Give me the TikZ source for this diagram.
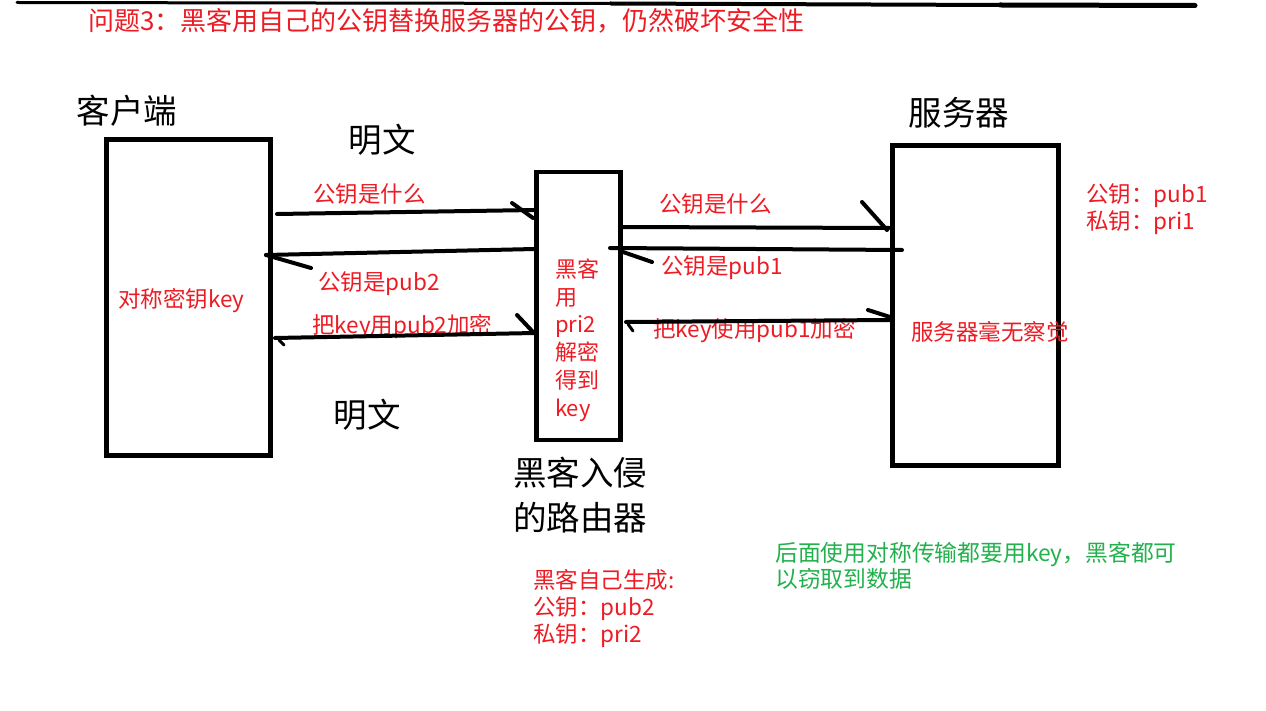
\documentclass[tikz,border=0pt]{standalone}
\usepackage{fontspec}
\setmainfont{Noto Sans CJK SC}
\definecolor{pred}{RGB}{237,28,36}
\definecolor{pgreen}{RGB}{34,177,76}
\tikzset{
  boxnode/.style={draw=black,line width=4.5pt,minimum width=#1,inner sep=0pt},
  stroke/.style={draw=black,line width=4pt,line cap=round},
  redlbl/.style={text=pred,font=\fontsize{22.5}{27}\selectfont,anchor=west,inner sep=0pt},
  grnlbl/.style={text=pgreen,font=\fontsize{22.8}{26.5}\selectfont,anchor=west,inner sep=0pt},
  blklbl/.style={text=black,font=\fontsize{33.5}{45}\selectfont,inner sep=0pt},
}
\begin{document}
\begin{tikzpicture}[x=1pt,y=-1pt]
\useasboundingbox (0,0) rectangle (1266,711);
\fill[white] (0,0) rectangle (1266,711);
% top line
\coordinate (t1) at (17,2.5);
\coordinate (t2) at (610,3.5);
\coordinate (t3) at (1000,5);
\coordinate (t4) at (1195,5.5);
\draw[black,line width=3pt,line cap=round] (t1) -- (t2);
\draw[black,line width=4pt] (t2) -- (t3);
\draw[black,line width=5pt,line cap=round] (t3) -- (t4);
% title
\node[redlbl,font=\fontsize{26}{30}\selectfont] (title) at (88,21) {问题3：黑客用自己的公钥替换服务器的公钥，仍然破坏安全性};
% boxes
\node[boxnode=164pt,minimum height=316pt] (client) at (188.5,297.5) {};
\node[boxnode=84pt,minimum height=268pt] (router) at (578.5,306) {};
\node[boxnode=166pt,minimum height=320pt] (server) at (975.5,305.5) {};
% black labels
\node[blklbl] (lclient) at (127,111) {客户端};
\node[blklbl] (lserver) at (959,113) {服务器};
\node[blklbl] (mw1) at (382,140) {明文};
\node[blklbl] (mw2) at (367,415) {明文};
\node[blklbl,align=center] (lrouter) at (580,495) {黑客入侵\\的路由器};
% red labels
\node[redlbl] (sym) at (118,301) {对称密钥key};
\node[redlbl,align=left,font=\fontsize{22}{27.8}\selectfont] (rtxt) at (555,340) {黑客\\用\\pri2\\解密\\得到\\key};
\node[redlbl] (unaware) at (911,332) {服务器毫无察觉};
\node[redlbl,align=left] (skeys) at (1086,209) {公钥：pub1\\私钥：pri1};
\node[redlbl,align=left] (hkeys) at (533,609) {黑客自己生成:\\公钥：pub2\\私钥：pri2};
\node[grnlbl,align=left] (note) at (775,566) {后面使用对称传输都要用key，黑客都可\\以窃取到数据};
% arrow labels
\node[redlbl] (a1) at (313,194) {公钥是什么};
\node[redlbl] (a2) at (318,284) {公钥是pub2};
\node[redlbl] (a3) at (312,327) {把key用pub2加密};
\node[redlbl] (a4) at (659,204) {公钥是什么};
\node[redlbl] (a5) at (661,268) {公钥是pub1};
\node[redlbl] (a6) at (653,331) {把key使用pub1加密};
% connectors (hand drawn, half arrow heads)
\coordinate (c1s) at (277,214); \coordinate (c1e) at (535,210);
\coordinate (h1a) at (512,203); \coordinate (h1b) at (533,218);
\draw[stroke] (c1s) -- (c1e); \draw[stroke] (h1a) -- (h1b);

\coordinate (c2s) at (535,249); \coordinate (c2e) at (266,255);
\coordinate (h2b) at (311,268);
\draw[stroke] (c2s) -- (c2e); \draw[stroke] (c2e) -- (h2b);

\coordinate (c3s) at (535,333); \coordinate (c3e) at (275,338);
\coordinate (h3a) at (517,315); \coordinate (h3b) at (533,332);
\coordinate (h3c) at (279,340); \coordinate (h3d) at (284,345);
\draw[stroke] (c3s) -- (c3e); \draw[stroke] (h3a) -- (h3b);
\draw[stroke,line width=3pt] (h3c) -- (h3d);

\coordinate (c4s) at (622,227); \coordinate (c4e) at (889,228);
\coordinate (h4a) at (862,202); \coordinate (h4b) at (887,230);
\draw[stroke] (c4s) -- (c4e); \draw[stroke] (h4a) -- (h4b);

\coordinate (c5s) at (902,250); \coordinate (c5e) at (610,248);
\coordinate (h5a) at (623,252); \coordinate (h5b) at (652,262);
\draw[stroke] (c5s) -- (c5e); \draw[stroke] (h5a) -- (h5b);

\coordinate (c6s) at (890,320); \coordinate (c6e) at (626,322);
\coordinate (h6a) at (868,310); \coordinate (h6b) at (890,317);
\coordinate (h6c) at (628,324); \coordinate (h6d) at (633,331);
\draw[stroke] (c6s) -- (c6e); \draw[stroke] (h6a) -- (h6b);
\draw[stroke,line width=3pt] (h6c) -- (h6d);
\end{tikzpicture}
\end{document}
